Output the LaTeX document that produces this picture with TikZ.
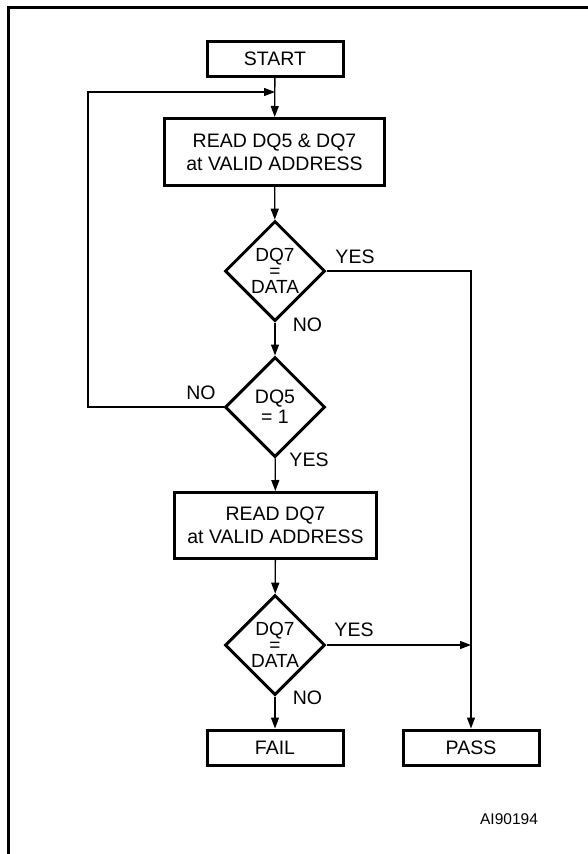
\documentclass[tikz,border=0pt]{standalone}
\usepackage{fontspec}
\setmainfont{Liberation Sans}
\usetikzlibrary{arrows.meta, positioning, shapes.geometric}

\begin{document}
\begin{tikzpicture}[x=1pt, y=-1pt,
    box/.style={draw, line width=3pt, inner sep=0pt, align=center, font=\fontsize{19.5}{23}\selectfont},
    decision/.style={diamond, draw, line width=3pt, minimum width=100pt, minimum height=100pt, inner sep=-30pt, align=center},
    flow/.style={line width=1.3pt, -{Triangle[length=11pt,width=8pt]}},
    tag/.style={inner sep=0pt, font=\fontsize{19.5}{23}\selectfont}]
        \useasboundingbox (0,0) rectangle (587,854);

        % outer frame
        \draw[line width=3pt] (8.5,870) -- (8.5,7) -- (600,7);

        % boxes
        \node[box, minimum width=136pt, minimum height=35pt] (start) at (275,58.5) {START};
        \node[box, minimum width=220pt, minimum height=67pt] (read1) at (274.5,152) {READ DQ5 \& DQ7\\at VALID ADDRESS};
        \node[box, minimum width=202pt, minimum height=66pt] (read2) at (275.5,525.5) {READ DQ7\\at VALID ADDRESS};
        \node[box, minimum width=136pt, minimum height=35pt] (fail) at (275,747.5) {FAIL};
        \node[box, minimum width=136pt, minimum height=35pt] (pass) at (471,747.5) {PASS};

        % decisions
        \node[decision, font=\fontsize{19}{16}\selectfont] (d1) at (275,271) {DQ7\\=\\DATA};
        \node[decision, font=\fontsize{19.5}{20}\selectfont] (d2) at (275,407) {DQ5\\= 1};
        \node[decision, font=\fontsize{19}{16}\selectfont] (d3) at (275,645) {DQ7\\=\\DATA};

        % bend points
        \coordinate (loop) at (88,92);
        \coordinate (join) at (275,92);
        \coordinate (merge) at (471,645);

        % main flow
        \draw[flow] (start) -- (read1);
        \draw[flow] (read1) -- (d1);
        \draw[flow] (d1) -- (d2);
        \draw[flow] (d2) -- (read2);
        \draw[flow] (read2) -- (d3);
        \draw[flow] (d3) -- (fail);

        % loop back and exits
        \draw[flow] (d2.west) -| (loop) -- (join);
        \draw[flow] (d1.east) -| (pass);
        \draw[flow] (d3.east) -- (merge);

        % branch labels
        \node[tag] (yes1) at (355,257) {YES};
        \node[tag] (no1) at (307.5,325) {NO};
        \node[tag] (no2) at (201,393) {NO};
        \node[tag] (yes2) at (309,460) {YES};
        \node[tag] (yes3) at (354,630) {YES};
        \node[tag] (no3) at (307.5,698) {NO};

        % figure code
        \node[inner sep=0pt, font=\fontsize{15.5}{18}\selectfont] (code) at (509,819) {AI90194};
    \end{tikzpicture}
\end{document}
